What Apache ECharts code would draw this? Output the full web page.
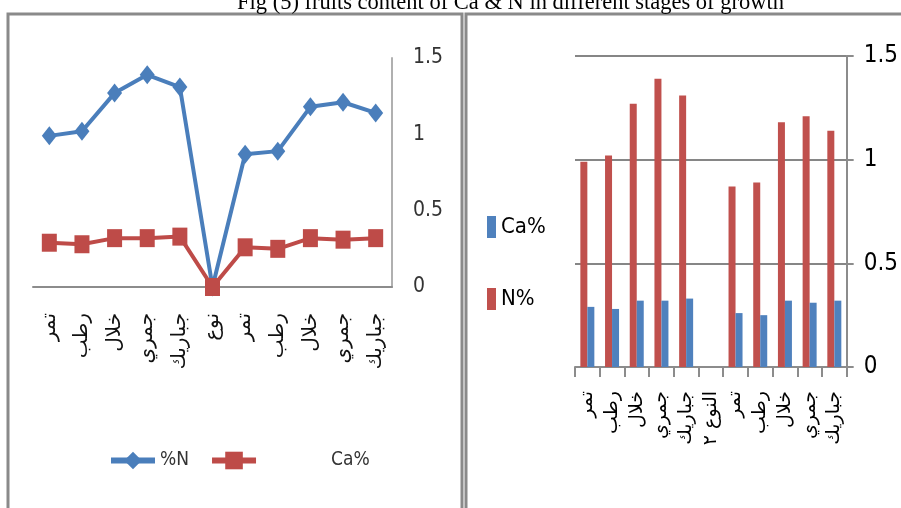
<!DOCTYPE html>
<html>
<head>
<meta charset="utf-8">
<script src="https://cdn.jsdelivr.net/npm/echarts@6/dist/echarts.min.js"></script>
<style>
  html, body { margin: 0; padding: 0; background: #fff; }
  #chart { width: 901px; height: 508px; }
</style>
</head>
<body>
<div id="chart"></div>
<script>
// Growth stages (left panel) and varieties/stages (right panel)
const lineCategories = ['تمر', 'رطب', 'خلال', 'جمري', 'جباريك', 'نوع', 'تمر', 'رطب', 'خلال', 'جمري', 'جباريك'];
const barCategories = ['تمر', 'رطب', 'خلال', 'جمري', 'جباريك', 'النوع ٢', 'تمر', 'رطب', 'خلال', 'جمري', 'جباريك'];

// Nitrogen and calcium content (%)
const nValues = [0.99, 1.02, 1.27, 1.39, 1.31, 0, 0.87, 0.89, 1.18, 1.21, 1.14];
const caValues = [0.29, 0.28, 0.32, 0.32, 0.33, 0, 0.26, 0.25, 0.32, 0.31, 0.32];

const yTicks = { min: 0, max: 1.5, interval: 0.5 };

// The bar panel gets its own series ids so its legend keeps the bar colours
const barCaName = 'Ca% ';
const barNName = 'N%';

const BLUE = '#4A7EBB';
const RED = '#BE4B48';
const numFont = '"DejaVu Sans Condensed", "DejaVu Sans", sans-serif';
const arFont = '"DejaVu Sans", sans-serif';

const chart = echarts.init(document.getElementById('chart'), null, { renderer: 'canvas' });

const option = {
  animation: false,
  backgroundColor: '#ffffff',
  title: {
    text: 'Fig (5) fruits content of Ca & N in different stages of growth',
    left: 232,
    top: -13,
    textStyle: { fontFamily: '"Liberation Serif", serif', fontSize: 22.5, fontWeight: 'normal', color: '#000' }
  },
  graphic: [
    { type: 'rect', shape: { x: 8, y: 14, width: 454, height: 520 }, style: { fill: 'none', stroke: '#8a8a8a', lineWidth: 3 }, z: 0 },
    { type: 'rect', shape: { x: 466, y: 14, width: 460, height: 520 }, style: { fill: 'none', stroke: '#8a8a8a', lineWidth: 3 }, z: 0 }
  ],
  legend: [
    {
      left: 108,
      top: 451,
      padding: 0,
      itemWidth: 44,
      itemHeight: 22,
      itemGap: 20,
      lineStyle: { width: 6 },
      data: [
        { name: '%N' },
        { name: 'Ca%', textStyle: { padding: [0, 0, 0, 70] } }
      ],
      textStyle: { fontFamily: numFont, fontSize: 19, color: '#333' }
    },
    {
      left: 487,
      top: 216,
      padding: 0,
      orient: 'vertical',
      itemWidth: 9,
      itemHeight: 22,
      itemGap: 50,
      icon: 'rect',
      data: [barCaName, barNName],
      formatter: (name) => name.trim(),
      textStyle: { fontFamily: numFont, fontSize: 22, color: '#000' }
    }
  ],
  grid: [
    { left: 33, right: 509, top: 58, bottom: 221 },
    { left: 575, right: 50, top: 56, bottom: 141 }
  ],
  xAxis: [
    {
      type: 'category',
      gridIndex: 0,
      data: lineCategories,
      boundaryGap: true,
      axisLine: { lineStyle: { color: '#8c8c8c', width: 2 } },
      axisTick: { show: false },
      axisLabel: { rotate: 90, margin: 26, interval: 0, fontFamily: arFont, fontSize: 20, color: '#111' }
    },
    {
      type: 'category',
      gridIndex: 1,
      data: barCategories,
      boundaryGap: true,
      axisLine: { lineStyle: { color: '#8c8c8c', width: 2 } },
      axisTick: { show: true, length: 10, alignWithLabel: false, interval: 0, lineStyle: { color: '#8c8c8c', width: 2 } },
      axisLabel: { rotate: 90, margin: 24, interval: 0, fontFamily: arFont, fontSize: 19, color: '#000' }
    }
  ],
  yAxis: [
    {
      type: 'value',
      gridIndex: 0,
      position: 'right',
      min: yTicks.min, max: yTicks.max, interval: yTicks.interval,
      axisLine: { show: true, lineStyle: { color: '#b0b0b0', width: 2 } },
      axisTick: { show: false },
      splitLine: { show: false },
      axisLabel: { margin: 21, fontFamily: numFont, fontSize: 21, color: '#333' }
    },
    {
      type: 'value',
      gridIndex: 1,
      position: 'right',
      min: yTicks.min, max: yTicks.max, interval: yTicks.interval,
      axisLine: { show: true, lineStyle: { color: '#8c8c8c', width: 2 } },
      axisTick: { show: true, length: 7, lineStyle: { color: '#8c8c8c', width: 2 } },
      splitLine: { show: true, lineStyle: { color: '#868686', width: 2 } },
      axisLabel: { margin: 17, fontFamily: numFont, fontSize: 24, color: '#000' }
    }
  ],
  series: [
    {
      name: '%N',
      type: 'line',
      xAxisIndex: 0, yAxisIndex: 0,
      data: nValues,
      symbol: 'diamond',
      symbolSize: [15, 19],
      lineStyle: { color: BLUE, width: 4 },
      itemStyle: { color: BLUE },
      z: 3
    },
    {
      name: 'Ca%',
      type: 'line',
      xAxisIndex: 0, yAxisIndex: 0,
      data: caValues,
      symbol: 'rect',
      symbolSize: [15, 18],
      lineStyle: { color: RED, width: 4 },
      itemStyle: { color: RED },
      z: 4
    },
    {
      name: barNName,
      type: 'bar',
      xAxisIndex: 1, yAxisIndex: 1,
      data: nValues,
      barWidth: 7,
      barGap: '0%',
      itemStyle: { color: '#C0504D' }
    },
    {
      name: barCaName,
      type: 'bar',
      xAxisIndex: 1, yAxisIndex: 1,
      data: caValues,
      barWidth: 7,
      barGap: '0%',
      itemStyle: { color: '#4F81BD' }
    }
  ]
};

chart.setOption(option);
</script>
</body>
</html>
